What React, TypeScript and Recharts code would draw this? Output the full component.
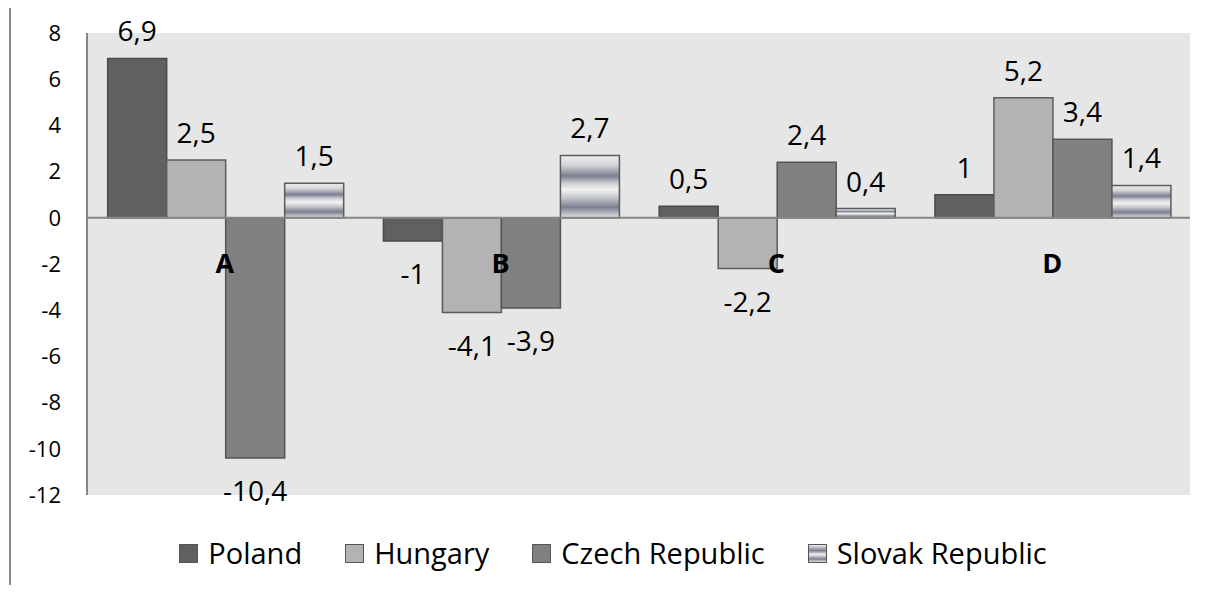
import React from "react";
import {
  BarChart, Bar, XAxis, YAxis, CartesianGrid, ReferenceLine, Legend, LabelList
} from "recharts";

const categories = ["A", "B", "C", "D"];
const poland = [6.9, -1, 0.5, 1];
const hungary = [2.5, -4.1, -2.2, 5.2];
const czech = [-10.4, -3.9, 2.4, 3.4];
const slovak = [1.5, 2.7, 0.4, 1.4];
const seriesNames = ["Poland", "Hungary", "Czech Republic", "Slovak Republic"];
const yTicks = [-12, -10, -8, -6, -4, -2, 0, 2, 4, 6, 8];

const data = categories.map((c, i) => ({
  name: c,
  poland: poland[i],
  hungary: hungary[i],
  czech: czech[i],
  slovak: slovak[i],
}));

const FONT = "'Open Sans', sans-serif";
const W = 1204;
const H = 579;
const margin = { top: 27, right: 25, left: 0, bottom: 60 };
const X_AXIS_H = 30;
const PLOT_H = H - margin.top - margin.bottom - X_AXIS_H;
const Y_MIN = -12;
const Y_MAX = 8;
const zeroY = margin.top + (PLOT_H * Y_MAX) / (Y_MAX - Y_MIN);

const series = [
  { key: "poland", fill: "#606060", stroke: "#4a4a4a", icon: "#606060" },
  { key: "hungary", fill: "#b3b3b3", stroke: "#5c5c5c", icon: "#b3b3b3" },
  { key: "czech", fill: "#808080", stroke: "#555555", icon: "#808080" },
  {
    key: "slovak",
    fill: "url(#chromeGrad)",
    stroke: "#5c5c5c",
    icon: "linear-gradient(#eeeeee 0%, #7b8091 33%, #f2f2f2 55%, #7a7f90 83%, #e4e4e4 100%)",
  },
];

const fmt = (v: number) => String(v).replace(".", ",");

const renderLabel = (props: any) => {
  const x = Number(props.x);
  const y = Number(props.y);
  const w = Number(props.width);
  const h = Number(props.height);
  const v = Number(props.value);
  const top = Math.min(y, y + h);
  const bottom = Math.max(y, y + h);
  const cy = v >= 0 ? top - 28 : bottom + 32;
  return (
    <text
      x={x + w / 2}
      y={cy}
      textAnchor="middle"
      dominantBaseline="central"
      fontFamily={FONT}
      fontSize={28}
      fill="#000"
    >
      {fmt(v)}
    </text>
  );
};

const CategoryTick = ({ x, payload }: any) => (
  <text
    x={x}
    y={zeroY + 45}
    textAnchor="middle"
    dominantBaseline="central"
    fontFamily={FONT}
    fontSize={27}
    fontWeight="bold"
    fill="#000"
  >
    {payload.value}
  </text>
);

const LegendContent = () => (
  <div
    style={{
      display: "flex",
      justifyContent: "center",
      alignItems: "center",
      fontFamily: FONT,
      fontSize: 29,
      color: "#000",
      lineHeight: "32px",
    }}
  >
    {series.map((s, i) => (
      <div
        key={s.key}
        style={{ display: "flex", alignItems: "center", marginLeft: i === 0 ? 0 : 43 }}
      >
        <span
          style={{
            display: "inline-block",
            width: 17,
            height: 17,
            background: s.icon,
            border: "1.5px solid #555",
            marginRight: 10,
          }}
        />
        <span>{seriesNames[i]}</span>
      </div>
    ))}
  </div>
);

export default function App() {
  return (
    <div
      style={{
        position: "relative",
        marginTop: -4,
        marginLeft: 1,
        width: W,
        height: H,
        borderTop: "2px solid #8c8c8c",
        borderLeft: "2px solid #8c8c8c",
        background: "#fff",
      }}
    >
      <BarChart
        width={W}
        height={H}
        data={data}
        margin={margin}
        barCategoryGap="7.5%"
        barGap={0}
      >
        <defs>
          <linearGradient id="chromeGrad" x1="0" y1="0" x2="0" y2="1">
            <stop offset="0%" stopColor="#ececec" />
            <stop offset="15%" stopColor="#d6d7da" />
            <stop offset="33%" stopColor="#7b8091" />
            <stop offset="45%" stopColor="#d0d2d6" />
            <stop offset="55%" stopColor="#f2f2f2" />
            <stop offset="68%" stopColor="#c4c6cc" />
            <stop offset="83%" stopColor="#7a7f90" />
            <stop offset="100%" stopColor="#e4e4e4" />
          </linearGradient>
        </defs>
        <CartesianGrid fill="#e6e6e6" horizontal={false} vertical={false} stroke="none" />
        <XAxis
          dataKey="name"
          axisLine={false}
          tickLine={false}
          height={X_AXIS_H}
          tick={<CategoryTick />}
          interval={0}
        />
        <YAxis
          domain={[Y_MIN, Y_MAX]}
          ticks={yTicks}
          interval={0}
          width={76}
          axisLine={{ stroke: "#868686", strokeWidth: 2 }}
          tickLine={false}
          tickSize={0}
          tickMargin={26}
          tick={{ fill: "#000", fontSize: 22, fontFamily: FONT }}
        />
        <Legend
          verticalAlign="middle"
          align="center"
          layout="horizontal"
          wrapperStyle={{ top: 531, left: 0, width: W }}
          content={<LegendContent />}
        />
        {series.map((s, i) => (
          <Bar
            key={s.key}
            dataKey={s.key}
            name={seriesNames[i]}
            fill={s.fill}
            stroke={s.stroke}
            strokeWidth={1.5}
            isAnimationActive={false}
          >
            <LabelList dataKey={s.key} content={renderLabel} />
          </Bar>
        ))}
        <ReferenceLine y={0} stroke="#868686" strokeWidth={2} />
      </BarChart>
    </div>
  );
}
